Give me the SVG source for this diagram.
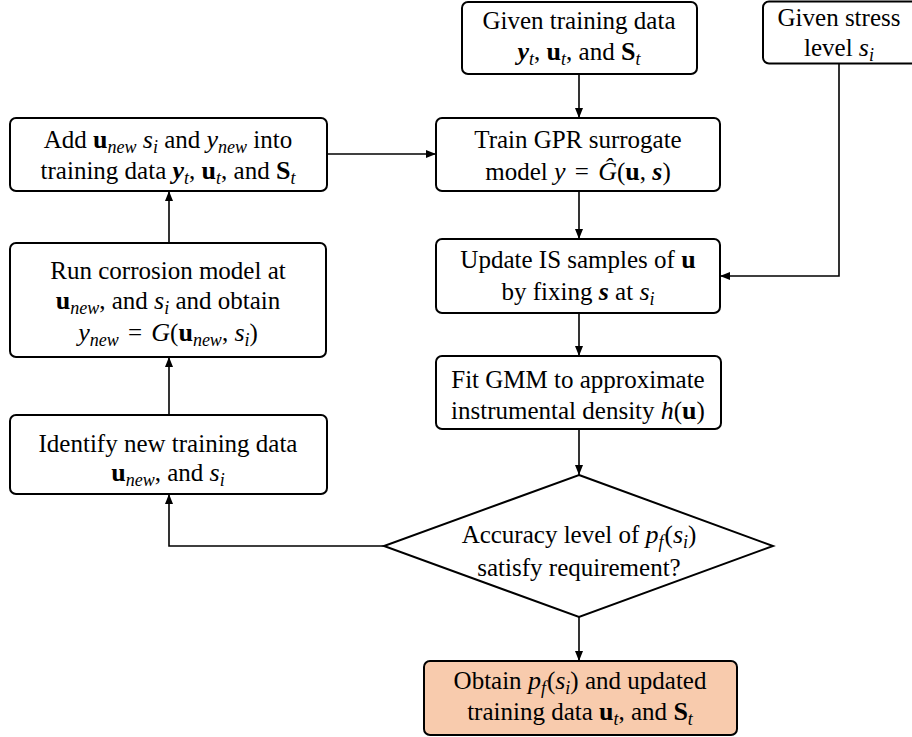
<svg xmlns="http://www.w3.org/2000/svg" width="912" height="737" viewBox="0 0 912 737">
  <style>
    .box { fill: #ffffff; stroke: #000000; stroke-width: 2; }
    .term { fill: #F8CBAD; stroke: #000000; stroke-width: 2; }
    .wire { fill: none; stroke: #000000; stroke-width: 1.6; }
    .lbl { font-family: 'Liberation Serif', 'Times New Roman', serif; font-size: 25px; fill: #000000; text-anchor: middle; }
    .i { font-style: italic; font-size: 26px; }
    .b { font-weight: bold; font-size: 26px; }
    .bi { font-weight: bold; font-style: italic; font-size: 26px; }
    .s { font-size: 18px; font-style: italic; }
  </style>
  <defs>
    <marker id="arrow" markerUnits="userSpaceOnUse" markerWidth="11" markerHeight="10" refX="10" refY="4" orient="auto">
      <path d="M0,0 L10,4 L0,8 z" fill="#000000"/>
    </marker>
  </defs>

  <!-- connectors -->
  <g id="connectors">
    <line class="wire" x1="579" y1="74" x2="579" y2="118" marker-end="url(#arrow)"/>
    <line class="wire" x1="579" y1="191" x2="579" y2="239" marker-end="url(#arrow)"/>
    <line class="wire" x1="579" y1="313" x2="579" y2="356" marker-end="url(#arrow)"/>
    <line class="wire" x1="579" y1="429" x2="579" y2="475" marker-end="url(#arrow)"/>
    <line class="wire" x1="579" y1="617" x2="579" y2="661" marker-end="url(#arrow)"/>
    <polyline class="wire" points="839,63 839,276 720,276" marker-end="url(#arrow)"/>
    <polyline class="wire" points="384,546 169,546 169,494" marker-end="url(#arrow)"/>
    <line class="wire" x1="169" y1="415" x2="169" y2="357" marker-end="url(#arrow)"/>
    <line class="wire" x1="169" y1="243" x2="169" y2="191" marker-end="url(#arrow)"/>
    <line class="wire" x1="327" y1="154" x2="436" y2="154" marker-end="url(#arrow)"/>
  </g>

  <g id="given-data">
    <rect class="box" x="462" y="2" width="235" height="72" rx="6"/>
    <text class="lbl" x="579" y="29">Given training data</text>
    <text class="lbl" x="579" y="60"><tspan class="bi">y</tspan><tspan class="s" dy="5">t</tspan><tspan dy="-5">, </tspan><tspan class="b">u</tspan><tspan class="s" dy="5">t</tspan><tspan dy="-5">, and </tspan><tspan class="b">S</tspan><tspan class="s" dy="5">t</tspan></text>
  </g>

  <g id="given-stress">
    <rect class="box" x="763" y="1.5" width="160" height="62" rx="6"/>
    <text class="lbl" x="839" y="26">Given stress</text>
    <text class="lbl" x="839" y="56">level <tspan class="i">s</tspan><tspan class="s" dy="5">i</tspan></text>
  </g>

  <g id="train-gpr">
    <rect class="box" x="436" y="118" width="284" height="73" rx="6"/>
    <text class="lbl" x="578" y="148">Train GPR surrogate</text>
    <text class="lbl" x="578" y="180">model <tspan class="i">y</tspan><tspan dx="3"> = </tspan><tspan class="i" dx="3">Ĝ</tspan>(<tspan class="b">u</tspan>, <tspan class="bi">s</tspan>)</text>
  </g>

  <g id="update-is">
    <rect class="box" x="436" y="239" width="284" height="74" rx="6"/>
    <text class="lbl" x="578" y="268">Update IS samples of <tspan class="b">u</tspan></text>
    <text class="lbl" x="578" y="300">by fixing <tspan class="bi">s</tspan> at <tspan class="i">s</tspan><tspan class="s" dy="5">i</tspan></text>
  </g>

  <g id="fit-gmm">
    <rect class="box" x="436" y="356" width="285" height="73" rx="6"/>
    <text class="lbl" x="578" y="388">Fit GMM to approximate</text>
    <text class="lbl" x="578" y="419">instrumental density <tspan class="i">h</tspan>(<tspan class="b">u</tspan>)</text>
  </g>

  <g id="accuracy-check">
    <polygon class="box" points="579,475 773,546 579,617 384,546"/>
    <text class="lbl" x="579" y="543">Accuracy level of <tspan class="i">p</tspan><tspan class="s" dy="5">f</tspan><tspan dy="-5" dx="1">(</tspan><tspan class="i">s</tspan><tspan class="s" dy="5">i</tspan><tspan dy="-5">)</tspan></text>
    <text class="lbl" x="579" y="576">satisfy requirement?</text>
  </g>

  <g id="obtain-result">
    <rect class="term" x="424" y="661" width="313" height="74" rx="6"/>
    <text class="lbl" x="580" y="689">Obtain <tspan class="i">p</tspan><tspan class="s" dy="5">f</tspan><tspan dy="-5" dx="1">(</tspan><tspan class="i">s</tspan><tspan class="s" dy="5">i</tspan><tspan dy="-5">) and updated</tspan></text>
    <text class="lbl" x="580" y="720">training data <tspan class="b">u</tspan><tspan class="s" dy="5">t</tspan><tspan dy="-5">, and </tspan><tspan class="b">S</tspan><tspan class="s" dy="5">t</tspan></text>
  </g>

  <g id="identify-new">
    <rect class="box" x="10" y="415" width="317" height="79" rx="6"/>
    <text class="lbl" x="168" y="452">Identify new training data</text>
    <text class="lbl" x="168" y="481"><tspan class="b">u</tspan><tspan class="s" dy="5">new</tspan><tspan dy="-5">, and </tspan><tspan class="i">s</tspan><tspan class="s" dy="5">i</tspan></text>
  </g>

  <g id="run-model">
    <rect class="box" x="10" y="243" width="316" height="114" rx="6"/>
    <text class="lbl" x="168" y="279">Run corrosion model at</text>
    <text class="lbl" x="168" y="309"><tspan class="b">u</tspan><tspan class="s" dy="5">new</tspan><tspan dy="-5">, and </tspan><tspan class="i">s</tspan><tspan class="s" dy="5">i</tspan><tspan dy="-5"> and obtain</tspan></text>
    <text class="lbl" x="168" y="341"><tspan class="i">y</tspan><tspan class="s" dy="5">new</tspan><tspan dy="-5" dx="3"> = </tspan><tspan class="i" dx="3">G</tspan>(<tspan class="b">u</tspan><tspan class="s" dy="5">new</tspan><tspan dy="-5">, </tspan><tspan class="i">s</tspan><tspan class="s" dy="5">i</tspan><tspan dy="-5">)</tspan></text>
  </g>

  <g id="add-data">
    <rect class="box" x="10" y="118" width="317" height="73" rx="6"/>
    <text class="lbl" x="168" y="148">Add <tspan class="b">u</tspan><tspan class="s" dy="5">new</tspan><tspan dy="-5"> </tspan><tspan class="i">s</tspan><tspan class="s" dy="5">i</tspan><tspan dy="-5"> and </tspan><tspan class="i">y</tspan><tspan class="s" dy="5">new</tspan><tspan dy="-5"> into</tspan></text>
    <text class="lbl" x="168" y="179">training data <tspan class="bi">y</tspan><tspan class="s" dy="5">t</tspan><tspan dy="-5">, </tspan><tspan class="b">u</tspan><tspan class="s" dy="5">t</tspan><tspan dy="-5">, and </tspan><tspan class="b">S</tspan><tspan class="s" dy="5">t</tspan></text>
  </g>
</svg>
